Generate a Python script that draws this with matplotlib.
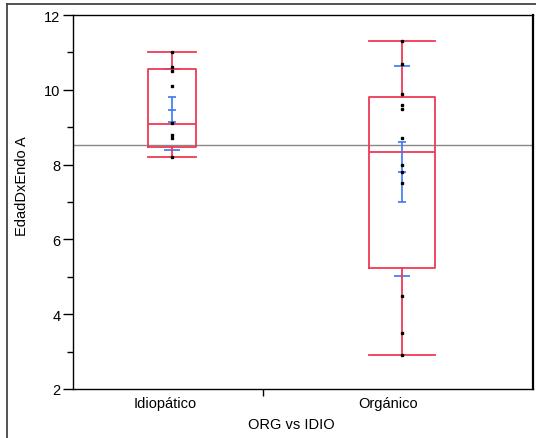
import matplotlib
matplotlib.use("Agg")
import matplotlib.pyplot as plt
from matplotlib.lines import Line2D

plt.rcParams['font.family'] = ['Liberation Sans', 'DejaVu Sans']

categories = ["Idiopático", "Orgánico"]
points_idio = [11.0, 10.6, 10.5, 10.1, 9.1, 8.8, 8.7, 8.2]
points_org = [11.3, 10.7, 9.9, 9.6, 9.5, 8.7, 8.0, 7.8, 7.5, 4.5, 3.5, 2.9]
# box stats: whisker low, q1, median, q3, whisker high
whislo = [8.2, 2.9]
q1 = [8.46, 5.24]
med = [9.08, 8.35]
q3 = [10.56, 9.82]
whishi = [11.0, 11.3]
means = [9.46, 7.81]
se_lo = [9.13, 7.01]
se_hi = [9.82, 8.61]
sd_lo = [8.39, 5.03]
sd_hi = [10.55, 10.63]
grand_mean = 8.52

# layout
positions = [0.215, 0.715]
widths = [0.104, 0.143]
label_pos = [0.200, 0.685]
divider = 0.413

W, H = 536, 439
fig = plt.figure(figsize=(W / 100, H / 100), dpi=100)
ax = fig.add_axes([73 / W, 1 - 390 / H, 460 / W, 374 / H])

red = '#EE3A55'
blue = '#3A78F2'

stats = []
for i in range(2):
    stats.append(dict(whislo=whislo[i], q1=q1[i], med=med[i], q3=q3[i],
                      whishi=whishi[i], fliers=[]))
ax.bxp(stats, positions=positions, widths=widths, capwidths=widths,
       showfliers=False, manage_ticks=False,
       boxprops=dict(color=red, linewidth=1.3),
       whiskerprops=dict(color=red, linewidth=1.3),
       capprops=dict(color=red, linewidth=1.3),
       medianprops=dict(color=red, linewidth=1.3), zorder=3)

ax.axhline(grand_mean, color='#888888', linewidth=1.0, zorder=2)

for i, pts in enumerate([points_idio, points_org]):
    x = positions[i]
    ax.plot([x] * len(pts), pts, linestyle='none', marker='s', markersize=1.7,
            color='black', zorder=5)
    # SE error bar
    ax.vlines(x, se_lo[i], se_hi[i], color=blue, linewidth=1.2, zorder=4)
    cw = 0.008
    ax.hlines([se_lo[i], se_hi[i], means[i]], x - cw, x + cw, color=blue,
              linewidth=1.2, zorder=4)
    sw = 0.017
    ax.hlines([sd_lo[i], sd_hi[i]], x - sw, x + sw, color=blue,
              linewidth=1.2, zorder=2.5)

ax.set_xlim(0, 1)
ax.set_ylim(2, 12)
ax.set_yticks([2, 4, 6, 8, 10, 12])
ax.set_yticks([3, 5, 7, 9, 11], minor=True)
ax.tick_params(axis='y', which='major', length=7, width=1, labelsize=10.5,
               pad=2)
ax.tick_params(axis='y', which='minor', length=4, width=1)

ax.set_xticks([divider])
ax.set_xticklabels([''])
ax.set_xticks(label_pos, minor=True)
ax.set_xticklabels(categories, minor=True, fontsize=10.5)
ax.tick_params(axis='x', which='major', length=5, width=1)
ax.tick_params(axis='x', which='minor', length=0, pad=5)

for s in ax.spines.values():
    s.set_linewidth(1.0)
ax.spines['right'].set_linewidth(1.6)

ax.set_xlabel("ORG vs IDIO", fontsize=10.5, labelpad=6)
ax.xaxis.set_label_coords(0.474, -0.075)
ax.set_ylabel("EdadDxEndo A", fontsize=10.5)
ax.yaxis.set_label_coords(-0.096, 0.544)

# outer frame lines
fig.add_artist(Line2D([7 / W, 7 / W], [0, 1 - 5 / H], color='#444444',
                      linewidth=1.3, transform=fig.transFigure))
fig.add_artist(Line2D([7 / W, 1], [1 - 5 / H, 1 - 5 / H], color='#444444',
                      linewidth=1.3, transform=fig.transFigure))

fig.savefig("out.png", dpi=100)
